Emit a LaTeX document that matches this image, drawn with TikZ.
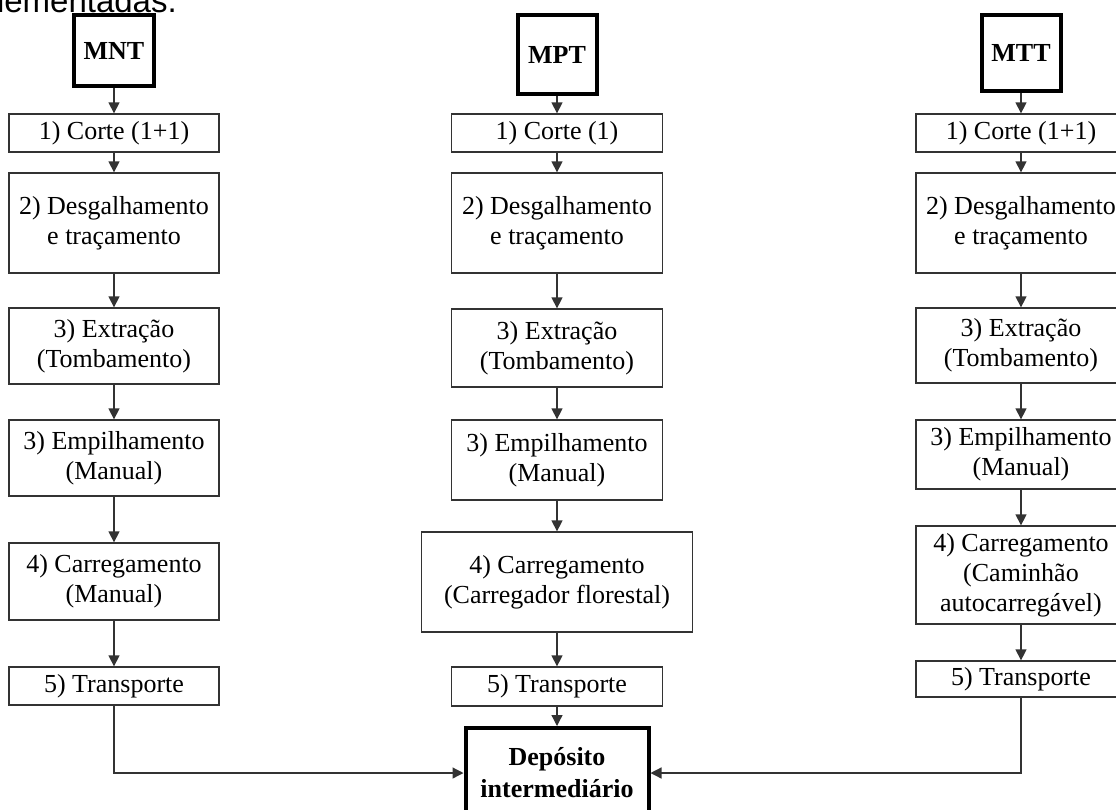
\documentclass[tikz,border=0pt]{standalone}
\usepackage{fontspec}
\setmainfont{Liberation Serif}
\newfontfamily\arialfont{Liberation Sans}
\usetikzlibrary{arrows.meta}
\begin{document}
\begin{tikzpicture}[x=1pt,y=-1pt,
  box/.style={draw=black!80,line width=1.3pt,fill=white,inner sep=0pt,align=center,
    font=\fontsize{26}{30}\selectfont,text=black},
  headbox/.style={draw=black,line width=4pt,fill=white,inner sep=0pt,align=center,
    font=\fontsize{26}{32}\selectfont\bfseries,text=black},
  arr/.style={draw=black!80,line width=1.3pt,-{Triangle[width=11pt,length=11pt]}}]
\useasboundingbox (0,0) rectangle (1116,809);
\fill[white] (0,0) rectangle (1116,809);
% top text (cut off by the page edge, as in the reference)
\node[anchor=base east,inner sep=0pt,font=\arialfont\fontsize{33}{36}\selectfont] (toptext) at (177,12) {implementadas.};
% left column
\node[headbox,minimum width=80pt,minimum height=71pt] (mnt) at (114,50.5) {MNT};
\node[box,minimum width=210pt,minimum height=38pt] (l1) at (114,133) {1) Corte (1+1)};
\node[box,minimum width=210pt,minimum height=100pt] (l2) at (114,223) {2) Desgalhamento\\e traçamento};
\node[box,minimum width=210pt,minimum height=76pt] (l3) at (114,346) {3) Extração\\(Tombamento)};
\node[box,minimum width=210pt,minimum height=76pt] (l4) at (114,458) {3) Empilhamento\\(Manual)};
\node[box,minimum width=210pt,minimum height=77pt] (l5) at (114,581.5) {4) Carregamento\\(Manual)};
\node[box,minimum width=210pt,minimum height=38pt] (l6) at (114,686) {5) Transporte};
% middle column
\node[headbox,minimum width=79pt,minimum height=79pt] (mpt) at (557,54.5) {MPT};
\node[box,minimum width=211pt,minimum height=38pt] (m1) at (557,133) {1) Corte (1)};
\node[box,minimum width=211pt,minimum height=100pt] (m2) at (557,223) {2) Desgalhamento\\e traçamento};
\node[box,minimum width=211pt,minimum height=78pt] (m3) at (557,348) {3) Extração\\(Tombamento)};
\node[box,minimum width=211pt,minimum height=80pt] (m4) at (557,460) {3) Empilhamento\\(Manual)};
\node[box,minimum width=271pt,minimum height=100pt] (m5) at (557,582) {4) Carregamento\\(Carregador florestal)};
\node[box,minimum width=211pt,minimum height=39pt] (m6) at (557,686.5) {5) Transporte};
\node[headbox,minimum width=183pt,minimum height=90pt] (dep) at (557,773) {Depósito\\intermediário};
% right column
\node[headbox,minimum width=79pt,minimum height=76pt] (mtt) at (1021,53) {MTT};
\node[box,minimum width=210pt,minimum height=38pt] (r1) at (1021,133) {1) Corte (1+1)};
\node[box,minimum width=210pt,minimum height=100pt] (r2) at (1021,223) {2) Desgalhamento\\e traçamento};
\node[box,minimum width=210pt,minimum height=75pt] (r3) at (1021,345.5) {3) Extração\\(Tombamento)};
\node[box,minimum width=210pt,minimum height=69pt] (r4) at (1021,454.5) {3) Empilhamento\\(Manual)};
\node[box,minimum width=210pt,minimum height=98pt] (r5) at (1021,575) {4) Carregamento\\(Caminhão\\autocarregável)};
\node[box,minimum width=210pt,minimum height=36pt] (r6) at (1021,679) {5) Transporte};
% connectors
\foreach \a/\b in {mnt/l1,l1/l2,l2/l3,l3/l4,l4/l5,l5/l6,
                   mpt/m1,m1/m2,m2/m3,m3/m4,m4/m5,m5/m6,m6/dep,
                   mtt/r1,r1/r2,r2/r3,r3/r4,r4/r5,r5/r6}
  \draw[arr] (\a.south) -- (\b.north);
\draw[arr] (l6.south) |- (dep.west);
\draw[arr] (r6.south) |- (dep.east);
\end{tikzpicture}
\end{document}
